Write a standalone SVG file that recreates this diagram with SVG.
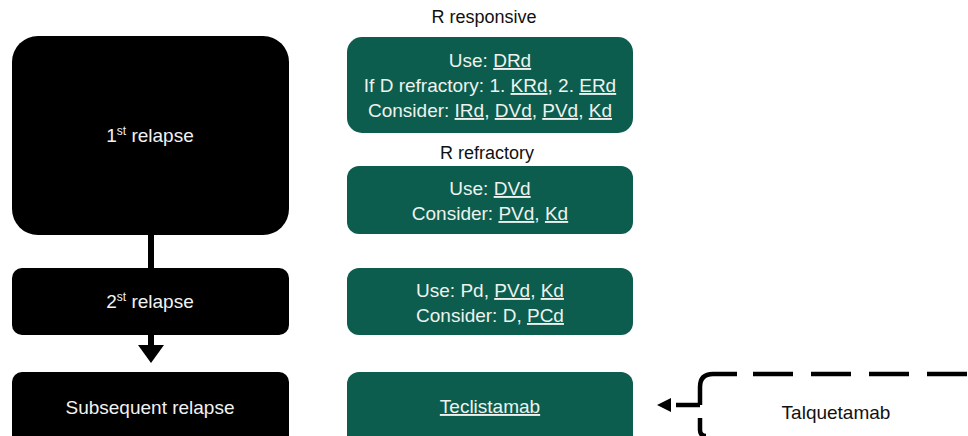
<svg xmlns="http://www.w3.org/2000/svg" width="968" height="436" viewBox="0 0 968 436">
<defs>
<style>
.blk{fill:#000}
.grn{fill:#0c5d4d}
.wt{fill:#f2f2f2;font-family:"Liberation Sans",Arial,sans-serif;font-size:19px;text-anchor:middle}
.gt{fill:#eef2ef;font-family:"Liberation Sans",Arial,sans-serif;font-size:19px;text-anchor:middle}
.lab{fill:#111;font-family:"Liberation Sans",Arial,sans-serif;font-size:18px;text-anchor:middle}
.u{text-decoration:underline}
.conn{stroke:#000;stroke-width:6;fill:none}
.edge{stroke:#000;stroke-width:4.5;fill:none}
.dash{stroke:#000;stroke-width:4.5;fill:none;stroke-dasharray:40 18}
</style>
</defs>
<g id="connectors">
<line class="conn" x1="151" y1="232" x2="151" y2="270"/>
<line class="conn" x1="151" y1="332" x2="151" y2="348"/>
<polygon points="138,345 164,345 151,363" fill="#000"/>
<line class="edge" x1="676" y1="405" x2="700" y2="405"/>
<polygon points="657,405 671,398 671,412" fill="#000"/>
</g>
<g id="n1"><rect class="blk" x="12" y="36" width="277" height="199" rx="26"/><text class="wt" x="150" y="142">1<tspan font-size="12" dy="-7">st</tspan><tspan dy="7"> relapse</tspan></text></g>
<g id="n2"><rect class="blk" x="12" y="268" width="277" height="67" rx="10"/><text class="wt" x="150" y="308">2<tspan font-size="12" dy="-7">st</tspan><tspan dy="7"> relapse</tspan></text></g>
<g id="n3"><rect class="blk" x="12" y="372" width="277" height="80" rx="10"/><text class="wt" x="150" y="414">Subsequent relapse</text></g>
<g id="lab1"><text class="lab" x="484" y="23">R responsive</text></g>
<g id="g1"><rect class="grn" x="347" y="37" width="286" height="96" rx="15"/>
<text class="gt" x="490" y="67">Use: <tspan class="u">DRd</tspan></text>
<text class="gt" x="490" y="92">If D refractory: 1. <tspan class="u">KRd</tspan>, 2. <tspan class="u">ERd</tspan></text>
<text class="gt" x="490" y="117">Consider: <tspan class="u">IRd</tspan>, <tspan class="u">DVd</tspan>, <tspan class="u">PVd</tspan>, <tspan class="u">Kd</tspan></text></g>
<g id="lab2"><text class="lab" x="487" y="159">R refractory</text></g>
<g id="g2"><rect class="grn" x="347" y="166" width="286" height="68" rx="12"/>
<text class="gt" x="490" y="195">Use: <tspan class="u">DVd</tspan></text>
<text class="gt" x="490" y="220">Consider: <tspan class="u">PVd</tspan>, <tspan class="u">Kd</tspan></text></g>
<g id="g3"><rect class="grn" x="347" y="268" width="286" height="67" rx="12"/>
<text class="gt" x="490" y="297">Use: Pd, <tspan class="u">PVd</tspan>, <tspan class="u">Kd</tspan></text>
<text class="gt" x="490" y="322">Consider: D, <tspan class="u">PCd</tspan></text></g>
<g id="g4"><rect class="grn" x="347" y="372" width="286" height="80" rx="12"/>
<text class="gt" x="490" y="413"><tspan class="u">Teclistamab</tspan></text></g>
<g id="talq">
<path class="edge" d="M700 405 V387 Q700 374 713 374 H737"/>
<path class="dash" d="M753 374 H975"/>
<path class="edge" d="M700 418 V430 Q700 436 706 436"/>
<text class="gt" x="836" y="419" style="fill:#111">Talquetamab</text>
</g>
</svg>
